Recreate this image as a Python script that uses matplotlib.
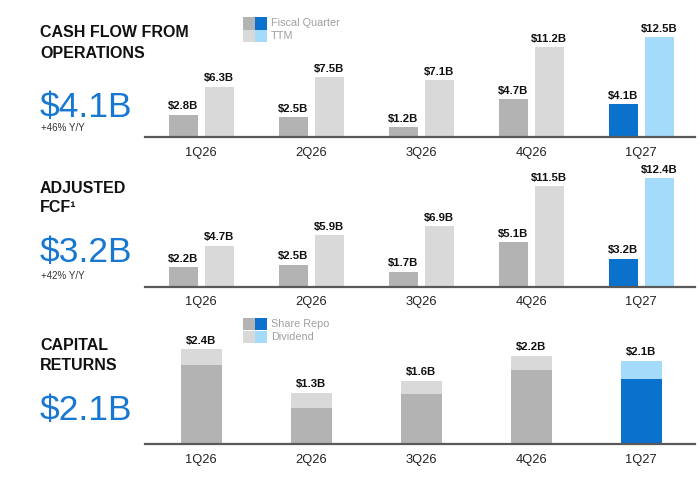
import matplotlib
matplotlib.use("Agg")
import matplotlib.pyplot as plt
from matplotlib.patches import Rectangle

plt.rcParams['font.family'] = ['Liberation Sans', 'DejaVu Sans']

quarters = ["1Q26", "2Q26", "3Q26", "4Q26", "1Q27"]
cfo_quarter = [2.8, 2.5, 1.2, 4.7, 4.1]
cfo_ttm = [6.3, 7.5, 7.1, 11.2, 12.5]
fcf_quarter = [2.2, 2.5, 1.7, 5.1, 3.2]
fcf_ttm = [4.7, 5.9, 6.9, 11.5, 12.4]
repo = [2.0, 0.92, 1.26, 1.87, 1.64]
dividend = [0.40, 0.38, 0.34, 0.36, 0.46]
cap_totals = [2.4, 1.3, 1.6, 2.2, 2.1]

GRAY_D = "#B3B3B3"
GRAY_L = "#D9D9D9"
BLUE_D = "#0A72CC"
BLUE_L = "#A5DBFA"
BIG_BLUE = "#1877D0"
AXIS_C = "#595959"

W, H = 700, 482
fig = plt.figure(figsize=(W / 100, H / 100), dpi=100)


def px_axes(left, right, top, bottom):
    return fig.add_axes([left / W, 1 - bottom / H, (right - left) / W, (bottom - top) / H])


def style(ax, ymax):
    ax.set_xlim(-0.51, 4.49)
    ax.set_ylim(0, ymax)
    for s in ["top", "right", "left"]:
        ax.spines[s].set_visible(False)
    ax.spines["bottom"].set_color(AXIS_C)
    ax.spines["bottom"].set_linewidth(1.6)
    ax.set_yticks([])
    ax.set_xticks(range(len(quarters)))
    ax.set_xticklabels(quarters, fontsize=9.3, color="#222222")
    ax.tick_params(axis="x", length=0, pad=7)
    ax.set_facecolor("none")


def label(ax, x, y, v):
    ax.annotate(f"${v:.1f}B", (x, y), xytext=(0, 2.5), textcoords="offset points",
                ha="center", va="bottom", fontsize=8.2, fontweight="bold", color="#111111")


def paired(ax, qv, tv):
    w = 0.264
    off = 0.164
    for i, (q, t) in enumerate(zip(qv, tv)):
        last = i == len(qv) - 1
        ax.bar(i - off, q, w, color=BLUE_D if last else GRAY_D)
        ax.bar(i + off, t, w, color=BLUE_L if last else GRAY_L)
        label(ax, i - off, q, q)
        label(ax, i + off, t, t)


# Panel 1
ax1 = px_axes(145, 695, 20, 137)
style(ax1, 117 / 8.0)
paired(ax1, cfo_quarter, cfo_ttm)

# Panel 2
ax2 = px_axes(145, 695, 170, 286.7)
style(ax2, 116.7 / 8.74)
paired(ax2, fcf_quarter, fcf_ttm)

# Panel 3
ax3 = px_axes(145, 695, 320, 444.3)
style(ax3, 124.3 / 39.7)
w3 = 0.373
for i in range(len(quarters)):
    last = i == len(quarters) - 1
    ax3.bar(i, repo[i], w3, color=BLUE_D if last else GRAY_D)
    ax3.bar(i, dividend[i], w3, bottom=repo[i], color=BLUE_L if last else GRAY_L)
    label(ax3, i, repo[i] + dividend[i], cap_totals[i])


def ftext(x, y, s, **kw):
    fig.text(x / W, 1 - y / H, s, **kw)


# Titles and headline numbers
title_kw = dict(fontsize=11.5, fontweight="bold", color="#111111", va="baseline", ha="left")
big_kw = dict(fontsize=25.5, color=BIG_BLUE, va="baseline", ha="left")
small_kw = dict(fontsize=7.0, color="#333333", va="baseline", ha="left")

ftext(40, 37, "CASH FLOW FROM", **title_kw)
ftext(40, 58, "OPERATIONS", **title_kw)
ftext(40, 117, "$4.1B", **big_kw)
ftext(41, 131, "+46% Y/Y", **small_kw)

ftext(40, 193, "ADJUSTED", **title_kw)
ftext(40, 212, "FCF¹", **title_kw)
ftext(40, 262, "$3.2B", **big_kw)
ftext(41, 279, "+42% Y/Y", **small_kw)

ftext(40, 350, "CAPITAL", **title_kw)
ftext(40, 370, "RETURNS", **title_kw)
ftext(40, 420, "$2.1B", **big_kw)


# Legends
def legend_block(top, labels, colors):
    for r, (lab, (c1, c2)) in enumerate(zip(labels, colors)):
        y0 = top + r * 12.5
        fig.patches.append(Rectangle((243 / W, 1 - (y0 + 12) / H), 12 / W, 12 / H,
                                     transform=fig.transFigure, color=c1, lw=0))
        fig.patches.append(Rectangle((255 / W, 1 - (y0 + 12) / H), 12 / W, 12 / H,
                                     transform=fig.transFigure, color=c2, lw=0))
        ftext(271, y0 + 6, lab, fontsize=7.8, color="#A0A0A0", va="center", ha="left")


legend_block(17.5, ["Fiscal Quarter", "TTM"], [(GRAY_D, BLUE_D), (GRAY_L, BLUE_L)])
legend_block(318, ["Share Repo", "Dividend"], [(GRAY_D, BLUE_D), (GRAY_L, BLUE_L)])

fig.savefig("out.png", dpi=100)
